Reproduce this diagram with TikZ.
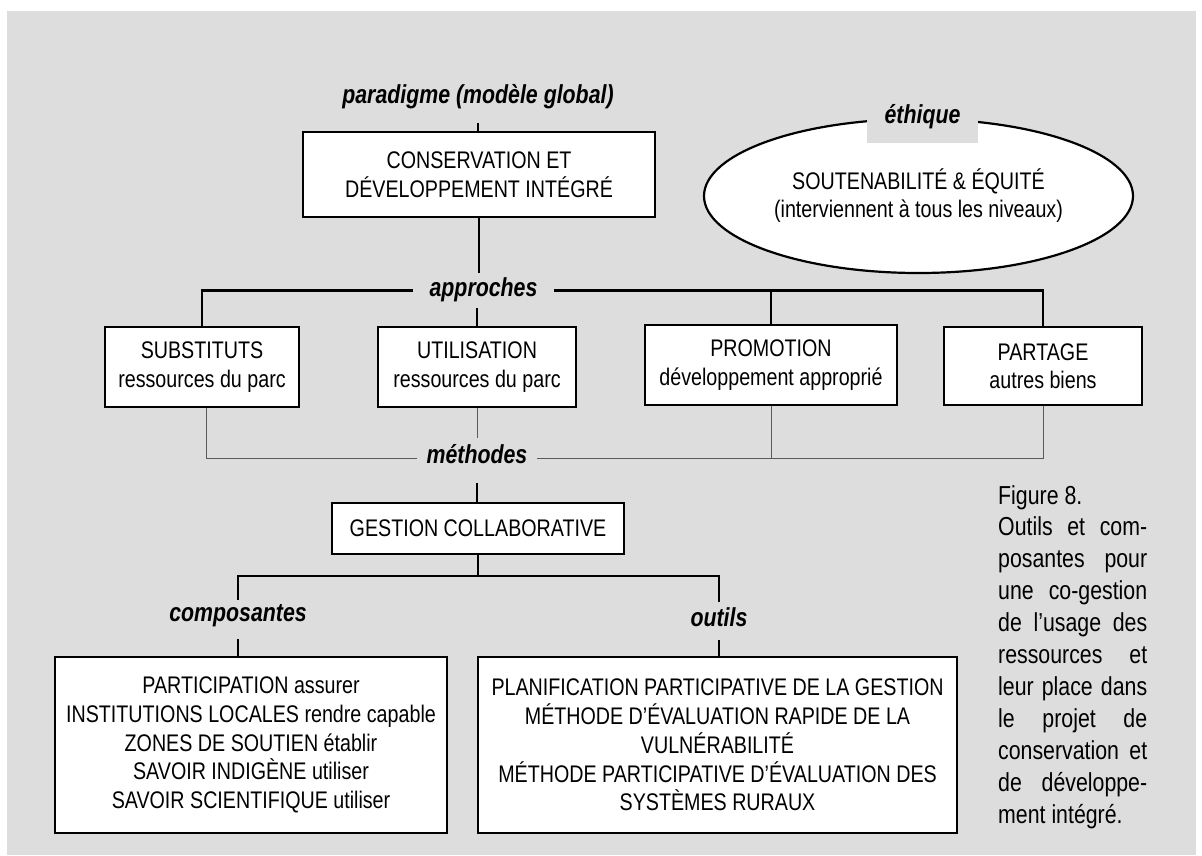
\documentclass[tikz,border=0pt]{standalone}
\usepackage{fontspec}
\setmainfont{Liberation Sans}[FakeStretch=0.82]
\usetikzlibrary{shapes.geometric}
\definecolor{bg}{RGB}{221,221,221}
\definecolor{thinc}{RGB}{90,90,90}
\begin{document}
\begin{tikzpicture}[x=1pt,y=-1pt,
  box/.style={draw, line width=2.6pt, fill=white, inner sep=0pt, align=center, font=\fontsize{24}{28.5}\selectfont},
  lbl/.style={font=\fontsize{26}{30}\selectfont\bfseries\itshape, inner xsep=0pt, inner ysep=0pt, anchor=base},
  conn/.style={line width=2.6pt},
  thinconn/.style={line width=1pt, draw=thinc}]
\useasboundingbox (0,0) rectangle (1202,855);
\fill[white] (0,0) rectangle (1202,855);
\fill[bg] (7,11) rectangle (1196,855);

% top
\node[lbl, text height=20pt, text depth=20pt] (para) at (478,103) {paradigme (modèle global)};
\node[box, minimum width=352pt, minimum height=85pt] (cdi) at (479,174.5) {CONSERVATION ET\\DÉVELOPPEMENT INTÉGRÉ};

% ethics ellipse
\node[ellipse, draw, line width=2.2pt, fill=white, minimum width=429pt, minimum height=154pt, inner sep=0pt, align=center, font=\fontsize{24}{28}\selectfont] (eth) at (918.5,196) {SOUTENABILITÉ \& ÉQUITÉ\\(interviennent à tous les niveaux)};
\node[lbl, fill=bg, minimum width=111pt, text height=24pt, text depth=20pt] (ethl) at (922.5,123) {éthique};

% approaches
\node[lbl, minimum width=141pt, text height=23pt, text depth=12pt] (appr) at (483.5,296) {approches};
\node[box, minimum width=194pt, minimum height=80pt] (sub) at (202,367) {SUBSTITUTS\\ressources du parc};
\node[box, minimum width=198pt, minimum height=80pt] (uti) at (477,367) {UTILISATION\\ressources du parc};
\node[box, minimum width=252pt, minimum height=80pt] (pro) at (771,365) {PROMOTION\\développement approprié};
\node[box, minimum width=198pt, minimum height=78pt] (par) at (1043,366) {PARTAGE\\autres biens};

% methods
\node[lbl, minimum width=120pt, text height=25pt, text depth=15pt] (meth) at (477,463) {méthodes};
\node[box, minimum width=292pt, minimum height=51pt] (gest) at (478,528.5) {GESTION COLLABORATIVE};
\coordinate (gj) at (478,576);

\node[lbl, text height=21pt, text depth=18pt] (comp) at (238,621) {composantes};
\node[lbl, text height=24pt, text depth=14pt] (outi) at (719,626) {outils};

\node[box, minimum width=392pt, minimum height=176pt, font=\fontsize{24}{28.75}\selectfont] (compbox) at (251,745) {PARTICIPATION assurer\\INSTITUTIONS LOCALES rendre capable\\ZONES DE SOUTIEN établir\\SAVOIR INDIGÈNE utiliser\\SAVOIR SCIENTIFIQUE utiliser};
\node[box, minimum width=479pt, minimum height=176pt, font=\fontsize{24}{28.75}\selectfont] (outbox) at (717.5,745) {PLANIFICATION PARTICIPATIVE DE LA GESTION\\MÉTHODE D’ÉVALUATION RAPIDE DE LA\\VULNÉRABILITÉ\\MÉTHODE PARTICIPATIVE D’ÉVALUATION DES\\SYSTÈMES RURAUX};

% caption
\node[anchor=base west, inner sep=0pt] (cap) at (998,504) {\parbox[t]{149pt}{\fontsize{26}{31.9}\selectfont
Figure 8.\\
\makebox[149pt][s]{Outils et com-}\\
\makebox[149pt][s]{posantes pour}\\
\makebox[149pt][s]{une co-gestion}\\
\makebox[149pt][s]{de l’usage des}\\
\makebox[149pt][s]{ressources et}\\
\makebox[149pt][s]{leur place dans}\\
\makebox[149pt][s]{le projet de}\\
\makebox[149pt][s]{conservation et}\\
\makebox[149pt][s]{de développe-}\\
ment intégré.}};

% connectors
\draw[conn] (para.south) -- (para.south |- cdi.north);
\draw[conn] (cdi.south) -- (cdi.south |- appr.north);
\draw[conn] (uti.north) -- (uti.north |- appr.south);
\draw[conn] (sub.north) |- (appr.west);
\draw[conn] (par.north) |- (appr.east);
\draw[conn] (pro.north) -- (pro.north |- appr.east);

\draw[thinconn] ([xshift=4pt]sub.south) |- (meth.west);
\draw[thinconn] (par.south) |- (meth.east);
\draw[thinconn] (pro.south) -- (pro.south |- meth.east);
\draw[thinconn] (uti.south) -- (uti.south |- meth.north);

\draw[conn, shorten <=5pt] (meth.south) -- (meth.south |- gest.north);
\draw[conn] (gest.south) -- (gj);
\draw[conn] (comp.north) |- (gj) -| (outi.north);
\draw[conn] (comp.south) -- (comp.south |- compbox.north);
\draw[conn] (outi.south) -- (outi.south |- outbox.north);
\end{tikzpicture}
\end{document}
